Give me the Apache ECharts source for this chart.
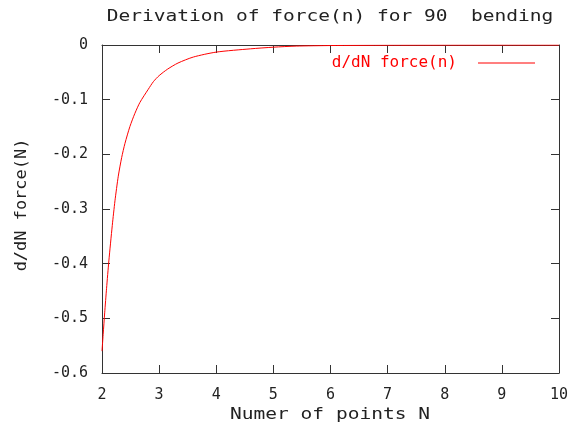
<!DOCTYPE html>
<html>
<head>
<meta charset="utf-8">
<script src="https://cdn.jsdelivr.net/npm/echarts@6/dist/echarts.min.js"></script>
<style>html,body{margin:0;padding:0;background:#fff}#c{width:580px;height:430px}</style>
</head>
<body>
<div id="c"></div>
<script>
// Data
var xValues = [2.0, 2.02, 2.047, 2.08, 2.12, 2.18, 2.227, 2.285, 2.344, 2.402, 2.489, 2.576, 2.664, 2.81, 2.9, 3.0, 3.15, 3.33, 3.6, 4.0, 4.6, 5.0, 5.4, 6.0, 7.0, 8.0, 9.0, 10.0];
var yValues = [-0.56, -0.53, -0.49, -0.445, -0.395, -0.33, -0.285, -0.24, -0.206, -0.18, -0.149, -0.125, -0.105, -0.081, -0.067, -0.056, -0.044, -0.033, -0.022, -0.013, -0.007, -0.004, -0.002, -0.001, -0.0004, -0.0002, -0.0001, -0.0001];
var seriesName = 'd/dN force(n)';
var titleText = 'Derivation of force(n) for 90  bending';
var xName = 'Numer of points N';
var yName = 'd/dN force(N)';

var FONT = '"DejaVu Sans Mono", monospace';
var TXT = '#222';
var AX = '#333';

var pts = xValues.map(function (x, i) { return [x, yValues[i]]; });

var chart = echarts.init(document.getElementById('c'), null, {renderer: 'canvas'});
function axisCommon() {
  return {
    axisLine: {show: true, onZero: false, lineStyle: {color: AX, width: 1}},
    axisTick: {show: true, inside: true, length: 8, lineStyle: {color: AX}},
    splitLine: {show: false}
  };
}
chart.setOption({
  animation: false,
  backgroundColor: '#fff',
  grid: {left: 102, right: 21, top: 45, bottom: 57},
  legend: {
    data: [seriesName],
    right: 45, top: 55,
    padding: 0,
    align: 'right',
    icon: 'rect',
    itemWidth: 57, itemHeight: 1,
    itemGap: 0,
    textStyle: {color: '#ff0000', fontFamily: FONT, fontSize: 16, padding: [0, 16, 0, 0]}
  },
  xAxis: [
    Object.assign({type: 'value', min: 2, max: 10, interval: 1, position: 'bottom',
      axisLabel: {color: TXT, fontFamily: FONT, fontSize: 15, margin: 15}}, axisCommon()),
    Object.assign({type: 'value', min: 2, max: 10, interval: 1, position: 'top',
      axisLabel: {show: false}}, axisCommon())
  ],
  yAxis: [
    Object.assign({type: 'value', min: -0.6, max: 0, interval: 0.1, position: 'left',
      axisLabel: {color: TXT, fontFamily: FONT, fontSize: 15, margin: 14,
        formatter: function (v) { return v === 0 ? '0' : v.toFixed(1); }}}, axisCommon()),
    Object.assign({type: 'value', min: -0.6, max: 0, interval: 0.1, position: 'right',
      axisLabel: {show: false}}, axisCommon())
  ],
  graphic: [
    {type: 'text', x: 330, y: 17, scaleX: 1.22, z: 10,
      style: {text: titleText, font: '16px ' + FONT, fill: TXT, textAlign: 'center', textVerticalAlign: 'middle'}},
    {type: 'text', x: 330, y: 415, scaleX: 1.22, z: 10,
      style: {text: xName, font: '16px ' + FONT, fill: TXT, textAlign: 'center', textVerticalAlign: 'middle'}},
    {type: 'text', x: 22, y: 205, rotation: Math.PI / 2, scaleX: 1.06, z: 10,
      style: {text: yName, font: '16px ' + FONT, fill: TXT, textAlign: 'center', textVerticalAlign: 'middle'}}
  ],
  series: [{
    name: seriesName,
    type: 'line',
    data: pts,
    showSymbol: false,
    symbol: 'none',
    smooth: 0.25,
    lineStyle: {color: '#ff0000', width: 1},
    itemStyle: {color: '#ff0000'},
    z: 5
  }]
});
</script>
</body>
</html>
